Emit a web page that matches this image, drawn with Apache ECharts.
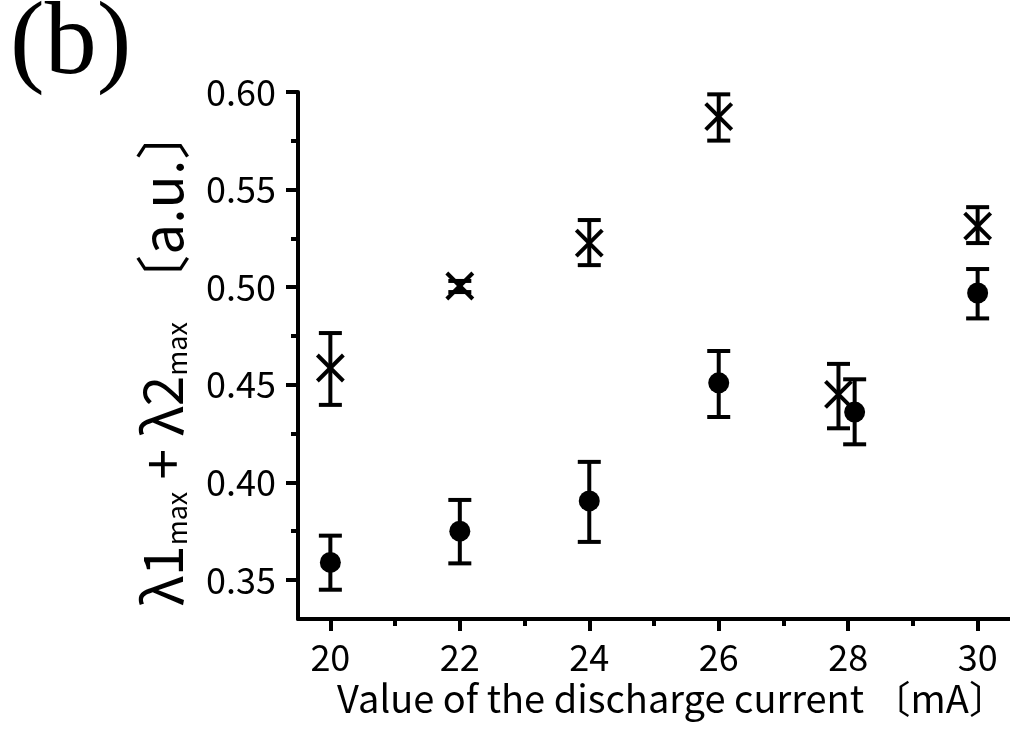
<!DOCTYPE html>
<html>
<head>
<meta charset="utf-8">
<script src="https://cdn.jsdelivr.net/npm/echarts@6/dist/echarts.min.js"></script>
<style>
  html, body { margin: 0; padding: 0; background: #fff; }
  #main { width: 1010px; height: 729px; }
</style>
</head>
<body>
<div id="main"></div>
<script>
// filled circles with error bars
var circleX = [20, 22, 24, 26, 28.1, 30];
var circleY = [0.359, 0.375, 0.3905, 0.451, 0.436, 0.497];
var circleLow = [0.345, 0.3585, 0.3695, 0.4335, 0.4195, 0.484];
var circleHigh = [0.3727, 0.391, 0.4105, 0.4673, 0.4528, 0.5093];

// crosses with error bars
var crossX = [20, 22, 24, 26, 27.85, 30];
var crossY = [0.4586, 0.5006, 0.5226, 0.5874, 0.4451, 0.5313];
var crossLow = [0.4397, 0.4975, 0.5113, 0.5751, 0.4277, 0.5226];
var crossHigh = [0.4765, 0.5032, 0.5344, 0.5988, 0.4607, 0.541];

var xMajor = [20, 22, 24, 26, 28, 30];
var xMinor = [21, 23, 25, 27, 29];
var yMajor = [0.35, 0.40, 0.45, 0.50, 0.55, 0.60];
var yMinor = [0.375, 0.425, 0.475, 0.525, 0.575];

var font = '"Noto Sans CJK JP", "Noto Sans", sans-serif';

function zip3(a, b, c) {
  return a.map(function (v, i) { return [v, b[i], c[i]]; });
}
function zip2(a, b) {
  return a.map(function (v, i) { return [v, b[i]]; });
}

function errorBar(params, api) {
  var lo = api.coord([api.value(0), api.value(1)]);
  var hi = api.coord([api.value(0), api.value(2)]);
  var w = 11.5;
  var st = { stroke: '#000', lineWidth: 4 };
  return {
    type: 'group',
    children: [
      { type: 'line', shape: { x1: lo[0], y1: lo[1], x2: hi[0], y2: hi[1] }, style: st },
      { type: 'line', shape: { x1: lo[0] - w, y1: lo[1], x2: lo[0] + w, y2: lo[1] }, style: st },
      { type: 'line', shape: { x1: hi[0] - w, y1: hi[1], x2: hi[0] + w, y2: hi[1] }, style: st }
    ]
  };
}

function crossMark(params, api) {
  var p = api.coord([api.value(0), api.value(1)]);
  var s = 13;
  var st = { stroke: '#000', lineWidth: 4 };
  return {
    type: 'group',
    children: [
      { type: 'line', shape: { x1: p[0] - s, y1: p[1] - s, x2: p[0] + s, y2: p[1] + s }, style: st },
      { type: 'line', shape: { x1: p[0] - s, y1: p[1] + s, x2: p[0] + s, y2: p[1] - s }, style: st }
    ]
  };
}

var chart = echarts.init(document.getElementById('main'));
chart.setOption({
  backgroundColor: '#fff',
  animation: false,
  graphic: [{
    type: 'text', left: 10, top: -6,
    style: { text: '(b)', font: '104px "Liberation Serif", serif', fill: '#000' }
  }],
  grid: { left: 298, right: 0, top: 92, bottom: 110 },
  xAxis: [{
    type: 'value', min: 19.5, max: 30.5, position: 'bottom',
    name: 'Value of the discharge current 〔mA〕',
    nameLocation: 'middle', nameGap: 54,
    nameTextStyle: { fontFamily: font, fontSize: 38, color: '#000', padding: [0, 0, 0, 36] },
    axisLine: { lineStyle: { color: '#000', width: 4 } },
    axisTick: { customValues: xMajor, inside: false, length: 12, lineStyle: { color: '#000', width: 4 } },
    axisLabel: { customValues: xMajor, margin: 20, fontFamily: font, fontSize: 36, color: '#000' },
    splitLine: { show: false }
  }, {
    type: 'value', min: 19.5, max: 30.5, position: 'bottom',
    axisLine: { show: false },
    axisTick: { customValues: xMinor, length: 7, lineStyle: { color: '#000', width: 4 } },
    axisLabel: { show: false },
    splitLine: { show: false }
  }],
  yAxis: [{
    type: 'value', min: 0.33, max: 0.60,
    name: '{a|λ1}{s|max}{a| + λ2}{s|max}{a| 〔a.u.〕}',
    nameLocation: 'middle', nameGap: 108, nameRotate: 90,
    nameTextStyle: {
      color: '#000',
      rich: {
        a: { fontFamily: font, fontSize: 55, lineHeight: 64, verticalAlign: 'bottom', color: '#000' },
        s: { fontFamily: font, fontSize: 27, lineHeight: 29, verticalAlign: 'bottom', color: '#000' }
      }
    },
    axisLine: { show: true, lineStyle: { color: '#000', width: 4 } },
    axisTick: { show: true, customValues: yMajor, length: 12, lineStyle: { color: '#000', width: 4 } },
    axisLabel: {
      customValues: yMajor, margin: 22, fontFamily: font, fontSize: 36, color: '#000',
      formatter: function (v) { return v.toFixed(2); }
    },
    splitLine: { show: false }
  }, {
    type: 'value', min: 0.33, max: 0.60, position: 'left',
    axisLine: { show: false },
    axisTick: { show: true, customValues: yMinor, length: 7, lineStyle: { color: '#000', width: 4 } },
    axisLabel: { show: false },
    splitLine: { show: false }
  }],
  series: [{
    type: 'custom', renderItem: errorBar,
    data: zip3(circleX, circleLow, circleHigh), z: 2
  }, {
    type: 'custom', renderItem: errorBar,
    data: zip3(crossX, crossLow, crossHigh), z: 2
  }, {
    type: 'custom', renderItem: crossMark,
    data: zip2(crossX, crossY), z: 3
  }, {
    type: 'scatter', symbol: 'circle', symbolSize: 21,
    itemStyle: { color: '#000', opacity: 1 },
    data: zip2(circleX, circleY), z: 4
  }]
});
</script>
</body>
</html>
